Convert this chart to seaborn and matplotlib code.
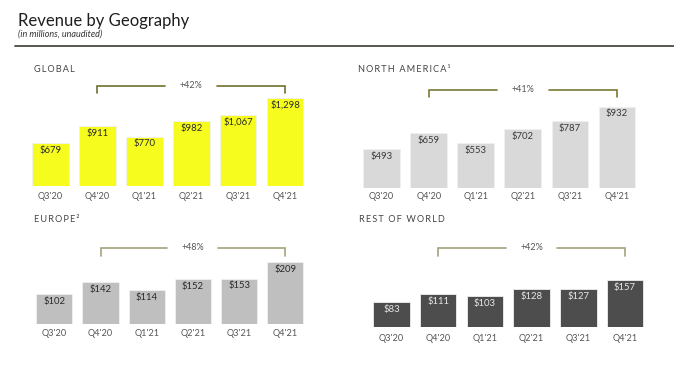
import matplotlib
matplotlib.use("Agg")
import matplotlib.pyplot as plt
import matplotlib.transforms as mtransforms
import seaborn as sns
import pandas as pd

sns.set_style("white")
plt.rcParams['font.family'] = ['Lato', 'DejaVu Sans']

quarters = ["Q3'20", "Q4'20", "Q1'21", "Q2'21", "Q3'21", "Q4'21"]
global_rev = [679, 911, 770, 982, 1067, 1298]
na_rev = [493, 659, 553, 702, 787, 932]
europe_rev = [102, 142, 114, 152, 153, 209]
row_rev = [83, 111, 103, 128, 127, 157]
growth = {"GLOBAL": "+42%", "NORTH AMERICA\u00b9": "+41%", "EUROPE\u00b2": "+48%", "REST OF WORLD": "+42%"}

W, H = 674, 366
fig = plt.figure(figsize=(W / 100, H / 100), dpi=100)


def add_ax(left, right, top, bottom):
    return fig.add_axes([left / W, 1 - bottom / H, (right - left) / W, (bottom - top) / H])


def fmt(v):
    return "${:,}".format(v)


panels = [
    ("GLOBAL", global_rev, "#F6FC1E", "#2a2a2a", "#6f6f2c", (27, 308.5, 80, 186), (99, 1537), (34, 70), 86, 93.3, 196.7),
    ("NORTH AMERICA\u00b9", na_rev, "#D9D9D9", "#3a3a3a", "#7a7a35", (358.1, 640.5, 82, 187.7), (97, 1187), (358, 69), 90, 97.3, 196.7),
    ("EUROPE\u00b2", europe_rev, "#BFBFBF", "#2a2a2a", "#a3a37c", (31.2, 308.4, 240, 324.3), (0, 283), (34, 219), 247.7, 255.7, 334.3),
    ("REST OF WORLD", row_rev, "#4D4D4D", "#e8e8e8", "#a3a37c", (368, 648.4, 240, 327.3), (0, 291), (359, 219), 247.7, 255.7, 339),
]

for name, vals, color, lcol, bcol, (l, r, t, b), ylim, (tx, ty), bpy, tpy, lpy in panels:
    ax = add_ax(l, r, t, b)
    df = pd.DataFrame({"q": quarters, "v": vals})
    sns.barplot(data=df, x="q", y="v", color=color, saturation=1, width=0.78,
                edgecolor="#f0f0f0", linewidth=0.6, ax=ax)
    ax.set_xlim(-0.5, 5.5)
    ax.set_ylim(*ylim)
    ax.set_xlabel("")
    ax.set_ylabel("")
    ax.set_yticks([])
    for s in ax.spines.values():
        s.set_visible(False)
    ax.tick_params(axis="x", length=0, pad=(lpy - b) * 0.72 - 3.5, labelsize=6.6, labelcolor="#555555")
    for i, v in enumerate(vals):
        ax.annotate(fmt(v), (i, v), xytext=(0, -5.2), textcoords="offset points",
                    ha="center", va="center", fontsize=6.8, color=lcol)
    hgt = b - t
    by = (b - bpy) / hgt
    ty2 = (b - tpy) / hgt
    tr = mtransforms.blended_transform_factory(ax.transData, ax.transAxes)
    x0, x1 = 1, 5
    xm = (x0 + x1) / 2
    gap = 0.55
    ax.plot([x0, x0, xm - gap], [ty2, by, by], color=bcol, lw=1.2, transform=tr, clip_on=False,
            solid_joinstyle="miter")
    ax.plot([xm + gap, x1, x1], [by, by, ty2], color=bcol, lw=1.2, transform=tr, clip_on=False,
            solid_joinstyle="miter")
    ax.text(xm, by, growth[name], transform=tr, ha="center", va="center", fontsize=6.5, color="#555555")
    fig.text(tx / W, 1 - ty / H, "\u2009".join(list(name)).replace("\u2009\u2009\u2009", "\u2009\u2009\u2009\u2009"),
             ha="left", va="center", fontsize=6.6, color="#444444",
             family=['Lato', 'DejaVu Sans'])

fig.text(17.5 / W, 1 - 21 / H, "Revenue by Geography", ha="left", va="center", fontsize=12, color="#1e1e1e")
fig.text(18.5 / W, 1 - 34.5 / H, "(in millions, unaudited)", ha="left", va="center", fontsize=6.5,
         style="italic", color="#333333")
fig.add_artist(plt.Line2D([15 / W, 1.0], [1 - 45.8 / H, 1 - 45.8 / H], color="#4a4a42", lw=1.3,
                          transform=fig.transFigure))

fig.savefig("out.png", dpi=100, facecolor="white")
